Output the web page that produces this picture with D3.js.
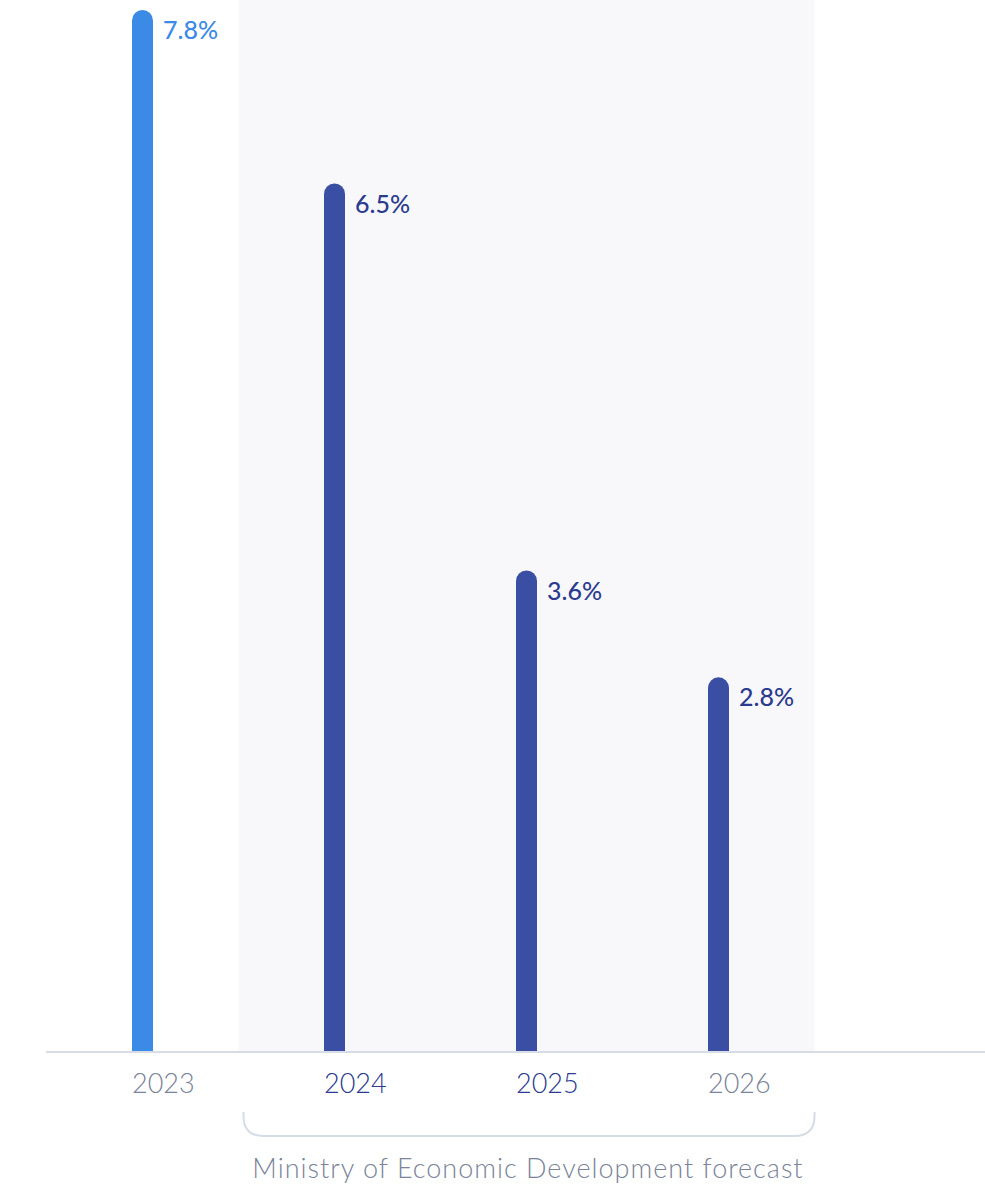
<!DOCTYPE html>
<html>
<head>
<meta charset="utf-8">
<script src="https://cdn.jsdelivr.net/npm/d3@7"></script>
<style>
  html, body { margin: 0; padding: 0; background: #ffffff; }
  svg { display: block; }
  text { font-family: "Lato", "Inter", sans-serif; }
</style>
</head>
<body>
<svg id="chart" width="985" height="1188"></svg>
<script>
// GDP growth: actual (2023) and forecast (2024–2026)
const years = ["2023", "2024", "2025", "2026"];
const growth = [7.8, 6.5, 3.6, 2.8];
const valueLabels = ["7.8%", "6.5%", "3.6%", "2.8%"];
const forecastYears = ["2024", "2025", "2026"];
const forecastNote = "Ministry of Economic Development forecast";

const W = 985, H = 1188;
const baseY = 1051, topY = 10;
const barW = 21;

const svg = d3.select("#chart");

const x = d3.scalePoint().domain(years).range([142.5, 718.5]);
const step = x.step();
const y = d3.scaleLinear().domain([0, d3.max(growth)]).range([baseY, topY]);

const data = years.map((yr, i) => ({
  year: yr, value: growth[i], label: valueLabels[i],
  forecast: forecastYears.includes(yr)
}));

// shaded forecast zone
const fx0 = x(forecastYears[0]) - step / 2;
const fx1 = x(forecastYears[forecastYears.length - 1]) + step / 2;
svg.append("rect")
  .attr("x", fx0).attr("y", 0)
  .attr("width", fx1 - fx0).attr("height", baseY)
  .attr("fill", "#f8f8fb");

// bars with rounded tops
function barPath(cx, yTop, yBot, w) {
  const r = w / 2, l = cx - r, rr = cx + r;
  return `M${l},${yBot} L${l},${yTop + r} A${r},${r} 0 0 1 ${rr},${yTop + r} L${rr},${yBot} Z`;
}

svg.append("g").selectAll("path")
  .data(data).join("path")
  .attr("d", d => barPath(x(d.year), y(d.value), y(0), barW))
  .attr("fill", d => d.forecast ? "#3a4fa3" : "#3a8ae6");

// value labels
svg.append("g").selectAll("text")
  .data(data).join("text")
  .attr("x", d => x(d.year) + barW / 2 + 10)
  .attr("y", d => y(d.value) + 29)
  .attr("font-size", 25)
  .attr("font-weight", 500)
  .attr("fill", d => d.forecast ? "#2b3b8f" : "#3a8ae6")
  .text(d => d.label);

// baseline
svg.append("line")
  .attr("x1", 46).attr("x2", W)
  .attr("y1", baseY + 1).attr("y2", baseY + 1)
  .attr("stroke", "#d6dde6").attr("stroke-width", 2);

// year labels, aligned to bar left edge
const yearColor = { "2023": "#7a8399", "2024": "#2b3b8f", "2025": "#2b3b8f", "2026": "#7a8399" };
svg.append("g").selectAll("text")
  .data(data).join("text")
  .attr("x", d => x(d.year) - barW / 2)
  .attr("y", 1093)
  .attr("font-size", 27)
  .attr("font-weight", 300)
  .attr("fill", d => yearColor[d.year])
  .text(d => d.year);

// bracket under forecast years
const bx0 = fx0 + 5, bx1 = fx1, bTop = 1112, bBot = 1136, br = 20;
svg.append("path")
  .attr("d", `M${bx0},${bTop} L${bx0},${bBot - br} Q${bx0},${bBot} ${bx0 + br},${bBot} L${bx1 - br},${bBot} Q${bx1},${bBot} ${bx1},${bBot - br} L${bx1},${bTop}`)
  .attr("fill", "none")
  .attr("stroke", "#d6dde6")
  .attr("stroke-width", 2);

svg.append("text")
  .attr("x", (bx0 + bx1) / 2 - 1)
  .attr("y", 1178)
  .attr("text-anchor", "middle")
  .attr("font-size", 27)
  .attr("font-weight", 300)
  .attr("letter-spacing", 1)
  .attr("fill", "#7a8399")
  .text(forecastNote);
</script>
</body>
</html>
